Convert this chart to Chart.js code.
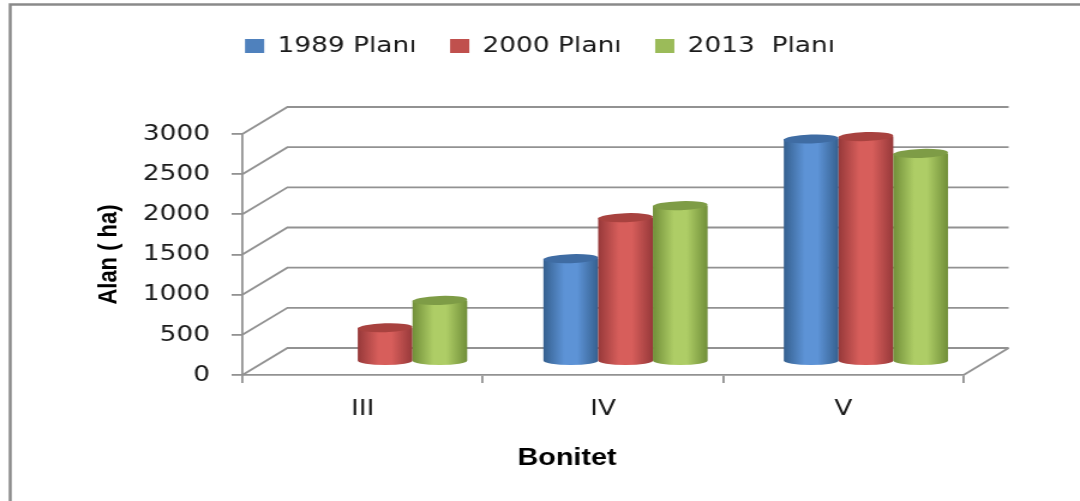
<!DOCTYPE html>
<html>
<head>
<meta charset="utf-8">
<script src="https://cdn.jsdelivr.net/npm/chart.js@4.4.0/dist/chart.umd.min.js"></script>
<style>
  html, body { margin: 0; padding: 0; background: #fff; overflow: hidden; }
  #wrap { width: 1080px; height: 501px; overflow: hidden; }
  /* the chart is drawn 900 wide and widened to 1080 */
  #grafico { transform: scaleX(1.2); transform-origin: 0 0; }
</style>
</head>
<body>
<div id="wrap"><canvas id="grafico" width="900" height="501" style="width:900px;height:501px"></canvas></div>
<script>
// Bonitet sınıflarına göre alanlar (ha)
const bonitet = ['III', 'IV', 'V'];
const plan1989 = [null, 1280, 2770];
const plan2000 = [420, 1790, 2800];
const plan2013 = [760, 1940, 2590];
const planNames = ['1989 Planı', '2000 Planı', '2013  Planı'];
const yTicks = [0, 500, 1000, 1500, 2000, 2500, 3000];

const colors = ['#4F81BD', '#C0504D', '#9BBB59'];
// dark edge, light face, top cap
const shades = [
    ['#35608f', '#5d93d6', '#3f6ca3'],
    ['#97393a', '#d75e5b', '#a8423f'],
    ['#718f39', '#aecd66', '#7e9c46']
];

const DX = 37.5;   // depth of the 3D box, canvas units
const DY = -27;
const GRID = '#929292';

function drawCylinder(ctx, cx, top, base, rx, shade) {
    const ry = 4.5;
    const g = ctx.createLinearGradient(cx - rx, 0, cx + rx, 0);
    g.addColorStop(0, shade[0]);
    g.addColorStop(0.38, shade[1]);
    g.addColorStop(0.62, shade[1]);
    g.addColorStop(1, shade[0]);
    ctx.beginPath();
    ctx.moveTo(cx - rx, top);
    ctx.lineTo(cx - rx, base);
    ctx.ellipse(cx, base, rx, ry, 0, Math.PI, 0, true);
    ctx.lineTo(cx + rx, top);
    ctx.closePath();
    ctx.fillStyle = g;
    ctx.fill();

    ctx.beginPath();
    ctx.ellipse(cx, top, rx, ry, -0.04, 0, Math.PI * 2);
    ctx.fillStyle = shade[2];
    ctx.fill();
}

const box3d = {
    id: 'box3d',
    beforeDraw(chart) {
        const ctx = chart.ctx;
        ctx.save();
        ctx.fillStyle = '#fff';
        ctx.fillRect(0, 0, chart.width, chart.height);
        // outer frame
        ctx.strokeStyle = '#8a8a8a';
        ctx.lineWidth = 2.5;
        ctx.beginPath();
        ctx.moveTo(8.5, chart.height);
        ctx.lineTo(8.5, 4.5);
        ctx.lineTo(chart.width, 4.5);
        ctx.stroke();
        ctx.restore();
    },
    beforeDatasetsDraw(chart) {
        const ctx = chart.ctx;
        const a = chart.chartArea;
        const y = chart.scales.y;
        ctx.save();
        ctx.strokeStyle = GRID;
        ctx.lineWidth = 1.8;
        // side wall diagonals and back wall lines
        y.ticks.forEach(function (t) {
            const py = y.getPixelForValue(t.value);
            ctx.beginPath();
            ctx.moveTo(a.left, py);
            ctx.lineTo(a.left + DX, py + DY);
            ctx.lineTo(a.right + DX, py + DY);
            ctx.stroke();
        });
        ctx.beginPath();
        ctx.moveTo(a.right, a.bottom);
        ctx.lineTo(a.right + DX, a.bottom + DY);
        ctx.stroke();

        // cylinders sit halfway into the box
        chart.data.datasets.forEach(function (ds, i) {
            const meta = chart.getDatasetMeta(i);
            meta.data.forEach(function (bar, j) {
                if (ds.data[j] == null) return;
                drawCylinder(ctx, bar.x + DX / 2, bar.y + DY / 2, bar.base + DY / 2, bar.width / 2, shades[i]);
            });
        });
        ctx.restore();
        return false;
    }
};

const tickFont = { family: 'DejaVu Sans', size: 22 };

new Chart(document.getElementById('grafico'), {
    type: 'bar',
    data: {
        labels: bonitet,
        datasets: [
            { label: planNames[0], data: plan1989, backgroundColor: colors[0] },
            { label: planNames[1], data: plan2000, backgroundColor: colors[1] },
            { label: planNames[2], data: plan2013, backgroundColor: colors[2] }
        ]
    },
    options: {
        responsive: false,
        animation: false,
        events: [],
        categoryPercentage: 0.683,
        barPercentage: 1,
        layout: { padding: { top: 7 } },
        plugins: {
            legend: {
                position: 'top',
                labels: {
                    font: tickFont,
                    color: '#1a1a1a',
                    boxWidth: 16,
                    boxHeight: 14,
                    padding: 28
                }
            },
            subtitle: {
                display: true,
                text: '',
                weight: 500,
                font: { size: 10 },
                padding: { top: 55, bottom: 0 }
            },
            tooltip: { enabled: false }
        },
        scales: {
            x: {
                grid: { drawOnChartArea: false, drawTicks: true, tickLength: 8, color: GRID, lineWidth: 1.8 },
                border: { display: true, color: GRID, width: 1.8 },
                ticks: { font: tickFont, color: '#1a1a1a', padding: 13 },
                title: {
                    display: true,
                    text: 'Bonitet         ',
                    font: { family: 'Liberation Sans', size: 24, weight: 'bold' },
                    color: '#000',
                    padding: { top: 0, bottom: 28 }
                },
                afterFit(scale) { scale.height = 126; }
            },
            y: {
                min: 0,
                max: 3000,
                afterBuildTicks(scale) {
                    scale.ticks = yTicks.map(function (v) { return { value: v }; });
                },
                grid: { drawOnChartArea: false, drawTicks: true, tickLength: 9, color: GRID, lineWidth: 1.8 },
                border: { display: true, color: GRID, width: 1.8 },
                ticks: {
                    font: tickFont,
                    color: '#1a1a1a',
                    padding: 18,
                    callback: function (v) { return String(v); }
                },
                title: {
                    display: true,
                    text: 'Alan ( ha)',
                    font: { family: 'Liberation Sans', size: 22, weight: 'bold' },
                    color: '#000',
                    padding: { top: 78, bottom: 0 }
                },
                afterFit(scale) { scale.width = 202; }
            },
            yRight: {
                position: 'right',
                display: true,
                grid: { display: false },
                border: { display: false },
                ticks: { display: false },
                afterFit(scale) { scale.width = 97; }
            }
        }
    },
    plugins: [box3d]
});
</script>
</body>
</html>
